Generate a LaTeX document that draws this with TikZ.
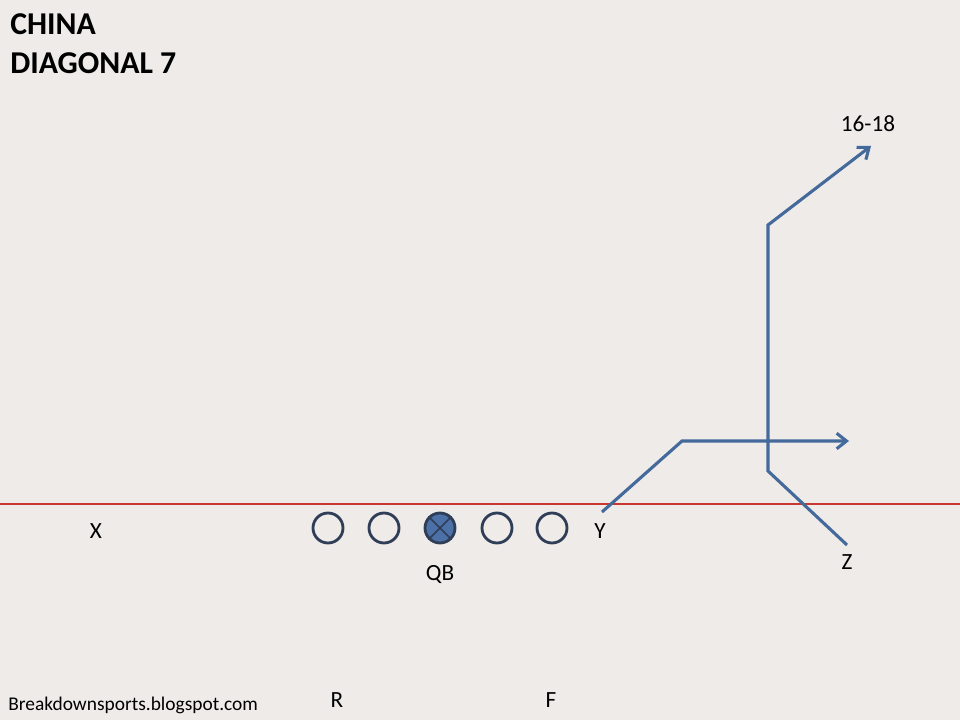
\documentclass[tikz,border=0pt]{standalone}
\usepackage{fontspec}
\setmainfont{Carlito}
\usepackage{xcolor}
\usepackage{tikz}
\usetikzlibrary{arrows.meta, positioning, calc}

\definecolor{bgcol}{HTML}{EEEBE9}
\definecolor{routecol}{HTML}{44699B}
\definecolor{ringcol}{HTML}{2F3D57}
\definecolor{qbcol}{HTML}{4C70A8}
\definecolor{loscol}{HTML}{C8382E}

\begin{document}
\begin{tikzpicture}[
        x=0.025cm, y=-0.025cm,
        title/.style={anchor=base west, inner sep=0pt, font=\fontsize{22.6}{27}\selectfont\bfseries},
        player/.style={anchor=base, inner sep=0pt, font=\fontsize{16.5}{20}\selectfont},
        lineman/.style={circle, draw=ringcol, line width=2pt, minimum size=0.75cm, inner sep=0pt},
        passer/.style={lineman, fill=qbcol},
        route/.style={draw=routecol, line width=2.2pt, line join=miter},
        arrow/.style={route, -{Straight Barb[length=7pt, width=11pt, line width=2.2pt]}}
    ]

    % Background
    \fill[bgcol] (0,0) rectangle (960,720);
    \useasboundingbox (0,0) rectangle (960,720);

    % Line of scrimmage
    \draw[loscol, line width=1pt] (0,504) -- (960,504);

    % Title
    \node[title] (title1) at (10,35) {CHINA};
    \node[title] (title2) at (10,74) {DIAGONAL 7};

    % Offensive line
    \node[lineman] (lt) at (328,528) {};
    \node[lineman] (lg) at (384,528) {};
    \node[passer] (ctr) at (440,528) {};
    \node[lineman] (rg) at (497,528) {};
    \node[lineman] (rt) at (552,528) {};
    \draw[ringcol, line width=1.2pt] (ctr.45) -- (ctr.225) (ctr.135) -- (ctr.315);

    % Players
    \node[player] (x) at (96,539) {X};
    \node[player] (y) at (600,539) {Y};
    \node[player] (qb) at (440,580) {QB};
    \node[player] (z) at (847,570) {Z};
    \node[player] (r) at (337,707) {R};
    \node[player] (f) at (551,707) {F};
    \node[player] (depth) at (868,132) {16-18};
    \node[anchor=base west, inner sep=0pt, font=\fontsize{13.8}{16}\selectfont] (site) at (8,710) {Breakdownsports.blogspot.com};

    % Route points
    \coordinate (ystart) at (602,512);
    \coordinate (ybreak) at (682,441);
    \coordinate (yend) at (849,441);
    \coordinate (zstart) at (847,545);
    \coordinate (zbreak) at (768,471);
    \coordinate (zstem) at (768,225);
    \coordinate (zend) at (871,146);

    % Routes
    \draw[arrow] (ystart) -- (ybreak) -- (yend);
    \draw[arrow] (zstart) -- (zbreak) -- (zstem) -- (zend);

\end{tikzpicture}
\end{document}
